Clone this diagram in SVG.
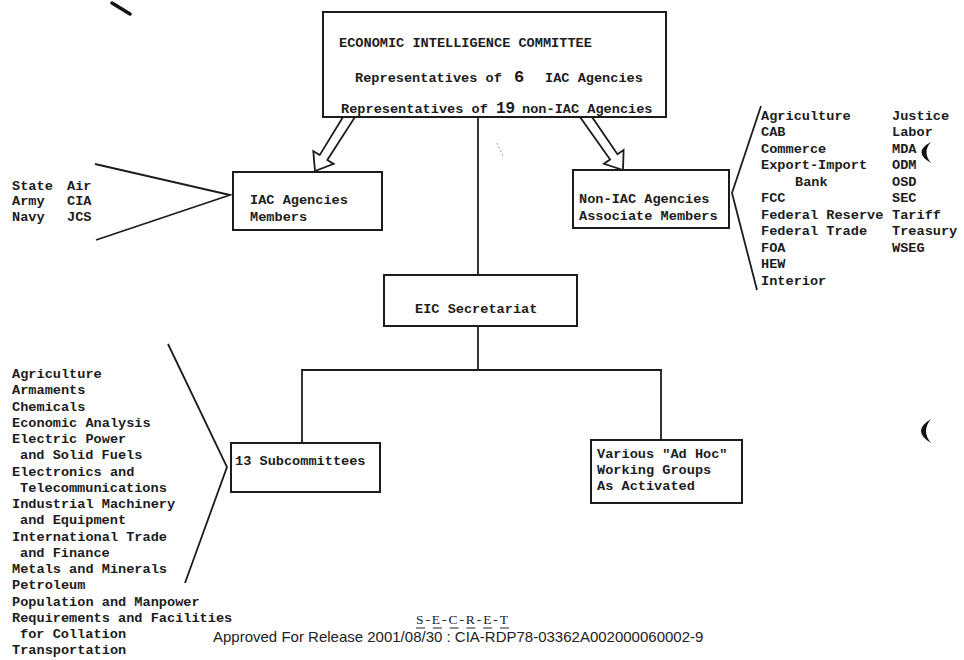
<svg xmlns="http://www.w3.org/2000/svg" width="964" height="660" viewBox="0 0 964 660">
<style>
.t{font-family:"Liberation Mono","DejaVu Sans Mono",monospace;font-size:13.6px;font-weight:bold;fill:#1c1c1c}
.box{fill:#fff;stroke:#1c1c1c;stroke-width:2}
.ln{fill:none;stroke:#1c1c1c;stroke-width:1.8}
.arr{fill:#fff;stroke:#1c1c1c;stroke-width:1.8;stroke-linejoin:miter}
.mark{fill:#111}
</style>
<rect width="964" height="660" fill="#fff"/>
<!-- scan marks -->
<line x1="112" y1="3" x2="130" y2="14" stroke="#111" stroke-width="3.5" stroke-linecap="round"/>
<line x1="497" y1="143" x2="503" y2="156" stroke="#999" stroke-width="1" stroke-dasharray="2 2"/>
<path class="mark" d="M931 142 Q912 152 931 163 Q922 152 931 142 Z"/>
<path class="mark" d="M931 419 Q911 431 931 443 Q921 431 931 419 Z"/>

<g id="connectors">
<line class="ln" x1="478" y1="117" x2="478" y2="275"/>
<line class="ln" x1="478" y1="326" x2="478" y2="370"/>
<polyline class="ln" points="302,443 302,370 661,370 661,440"/>
<polygon class="arr" points="343,117 319.7,155.1 313.3,151.1 315,171 333.7,163.9 327.3,159.9 355,117"/>
<polygon class="arr" points="580,117 610.1,159.5 604,163.8 623,170 623.6,150 617.5,154.3 592,117"/>
<polyline class="ln" points="95,164 230,195 96,240"/>
<polyline class="ln" points="761,106 732,193 757,290"/>
<polyline class="ln" points="168,344 227,467 185,583"/>
</g>

<g id="eic">
<rect class="box" x="323" y="12" width="343" height="105"/>
<text class="t" x="339" y="47">ECONOMIC INTELLIGENCE COMMITTEE</text>
<text class="t" x="355" y="82">Representatives of<tspan x="514" font-size="17">6</tspan><tspan x="545">IAC Agencies</tspan></text>
<text class="t" x="341" y="113">Representatives of<tspan x="496" font-size="16">19</tspan><tspan x="522">non-IAC Agencies</tspan></text>
</g>

<g id="iac">
<rect class="box" x="233" y="172" width="149" height="58"/>
<text class="t" x="250" y="204">IAC Agencies</text>
<text class="t" x="250" y="221">Members</text>
</g>

<g id="iac-list">
<text class="t" x="12" y="190">State</text>
<text class="t" x="12" y="205">Army</text>
<text class="t" x="12" y="221">Navy</text>
<text class="t" x="67" y="190">Air</text>
<text class="t" x="67" y="205">CIA</text>
<text class="t" x="67" y="221">JCS</text>
</g>

<g id="noniac">
<rect class="box" x="573" y="170" width="156" height="58"/>
<text class="t" x="579" y="203">Non-IAC Agencies</text>
<text class="t" x="579" y="220">Associate Members</text>
</g>

<g id="noniac-list">
<text class="t" x="761" y="119.5">Agriculture</text>
<text class="t" x="761" y="136">CAB</text>
<text class="t" x="761" y="152.5">Commerce</text>
<text class="t" x="761" y="169">Export-Import</text>
<text class="t" x="795" y="185.5">Bank</text>
<text class="t" x="761" y="202">FCC</text>
<text class="t" x="761" y="218.5">Federal Reserve</text>
<text class="t" x="761" y="235">Federal Trade</text>
<text class="t" x="761" y="251.5">FOA</text>
<text class="t" x="761" y="268">HEW</text>
<text class="t" x="761" y="284.5">Interior</text>
<text class="t" x="892" y="119.5">Justice</text>
<text class="t" x="892" y="136">Labor</text>
<text class="t" x="892" y="152.5">MDA</text>
<text class="t" x="892" y="169">ODM</text>
<text class="t" x="892" y="185.5">OSD</text>
<text class="t" x="892" y="202">SEC</text>
<text class="t" x="892" y="218.5">Tariff</text>
<text class="t" x="892" y="235">Treasury</text>
<text class="t" x="892" y="251.5">WSEG</text>
</g>

<g id="secretariat">
<rect class="box" x="384" y="275" width="193" height="51"/>
<text class="t" x="415" y="313">EIC Secretariat</text>
</g>

<g id="subcommittees">
<rect class="box" x="231" y="443" width="149" height="49"/>
<text class="t" x="235" y="465">13 Subcommittees</text>
</g>

<g id="adhoc">
<rect class="box" x="591" y="440" width="151" height="63"/>
<text class="t" x="597" y="458">Various "Ad Hoc"</text>
<text class="t" x="597" y="474">Working Groups</text>
<text class="t" x="597" y="490">As Activated</text>
</g>

<g id="subcommittee-list">
<text class="t" x="12" y="378">Agriculture</text>
<text class="t" x="12" y="394.25">Armaments</text>
<text class="t" x="12" y="410.5">Chemicals</text>
<text class="t" x="12" y="426.75">Economic Analysis</text>
<text class="t" x="12" y="443">Electric Power</text>
<text class="t" x="20" y="459.25">and Solid Fuels</text>
<text class="t" x="12" y="475.5">Electronics and</text>
<text class="t" x="20" y="491.75">Telecommunications</text>
<text class="t" x="12" y="508">Industrial Machinery</text>
<text class="t" x="20" y="524.25">and Equipment</text>
<text class="t" x="12" y="540.5">International Trade</text>
<text class="t" x="20" y="556.75">and Finance</text>
<text class="t" x="12" y="573">Metals and Minerals</text>
<text class="t" x="12" y="589.25">Petroleum</text>
<text class="t" x="12" y="605.5">Population and Manpower</text>
<text class="t" x="12" y="621.75">Requirements and Facilities</text>
<text class="t" x="20" y="638">for Collation</text>
<text class="t" x="12" y="654.25">Transportation</text>
</g>

<g id="footer">
<text x="416" y="624" font-family="Liberation Serif, Times New Roman, serif" font-size="13.5" textLength="92" lengthAdjust="spacing" fill="#222">S-E-C-R-E-T</text>
<line x1="416" y1="628" x2="509" y2="628" stroke="#222" stroke-width="1" stroke-dasharray="9 7.8"/>
<text x="213" y="642" font-family="Liberation Sans, Arial, sans-serif" font-size="15" fill="#222">Approved For Release 2001/08/30 : CIA-RDP78-03362A002000060002-9</text>
</g>
</svg>
